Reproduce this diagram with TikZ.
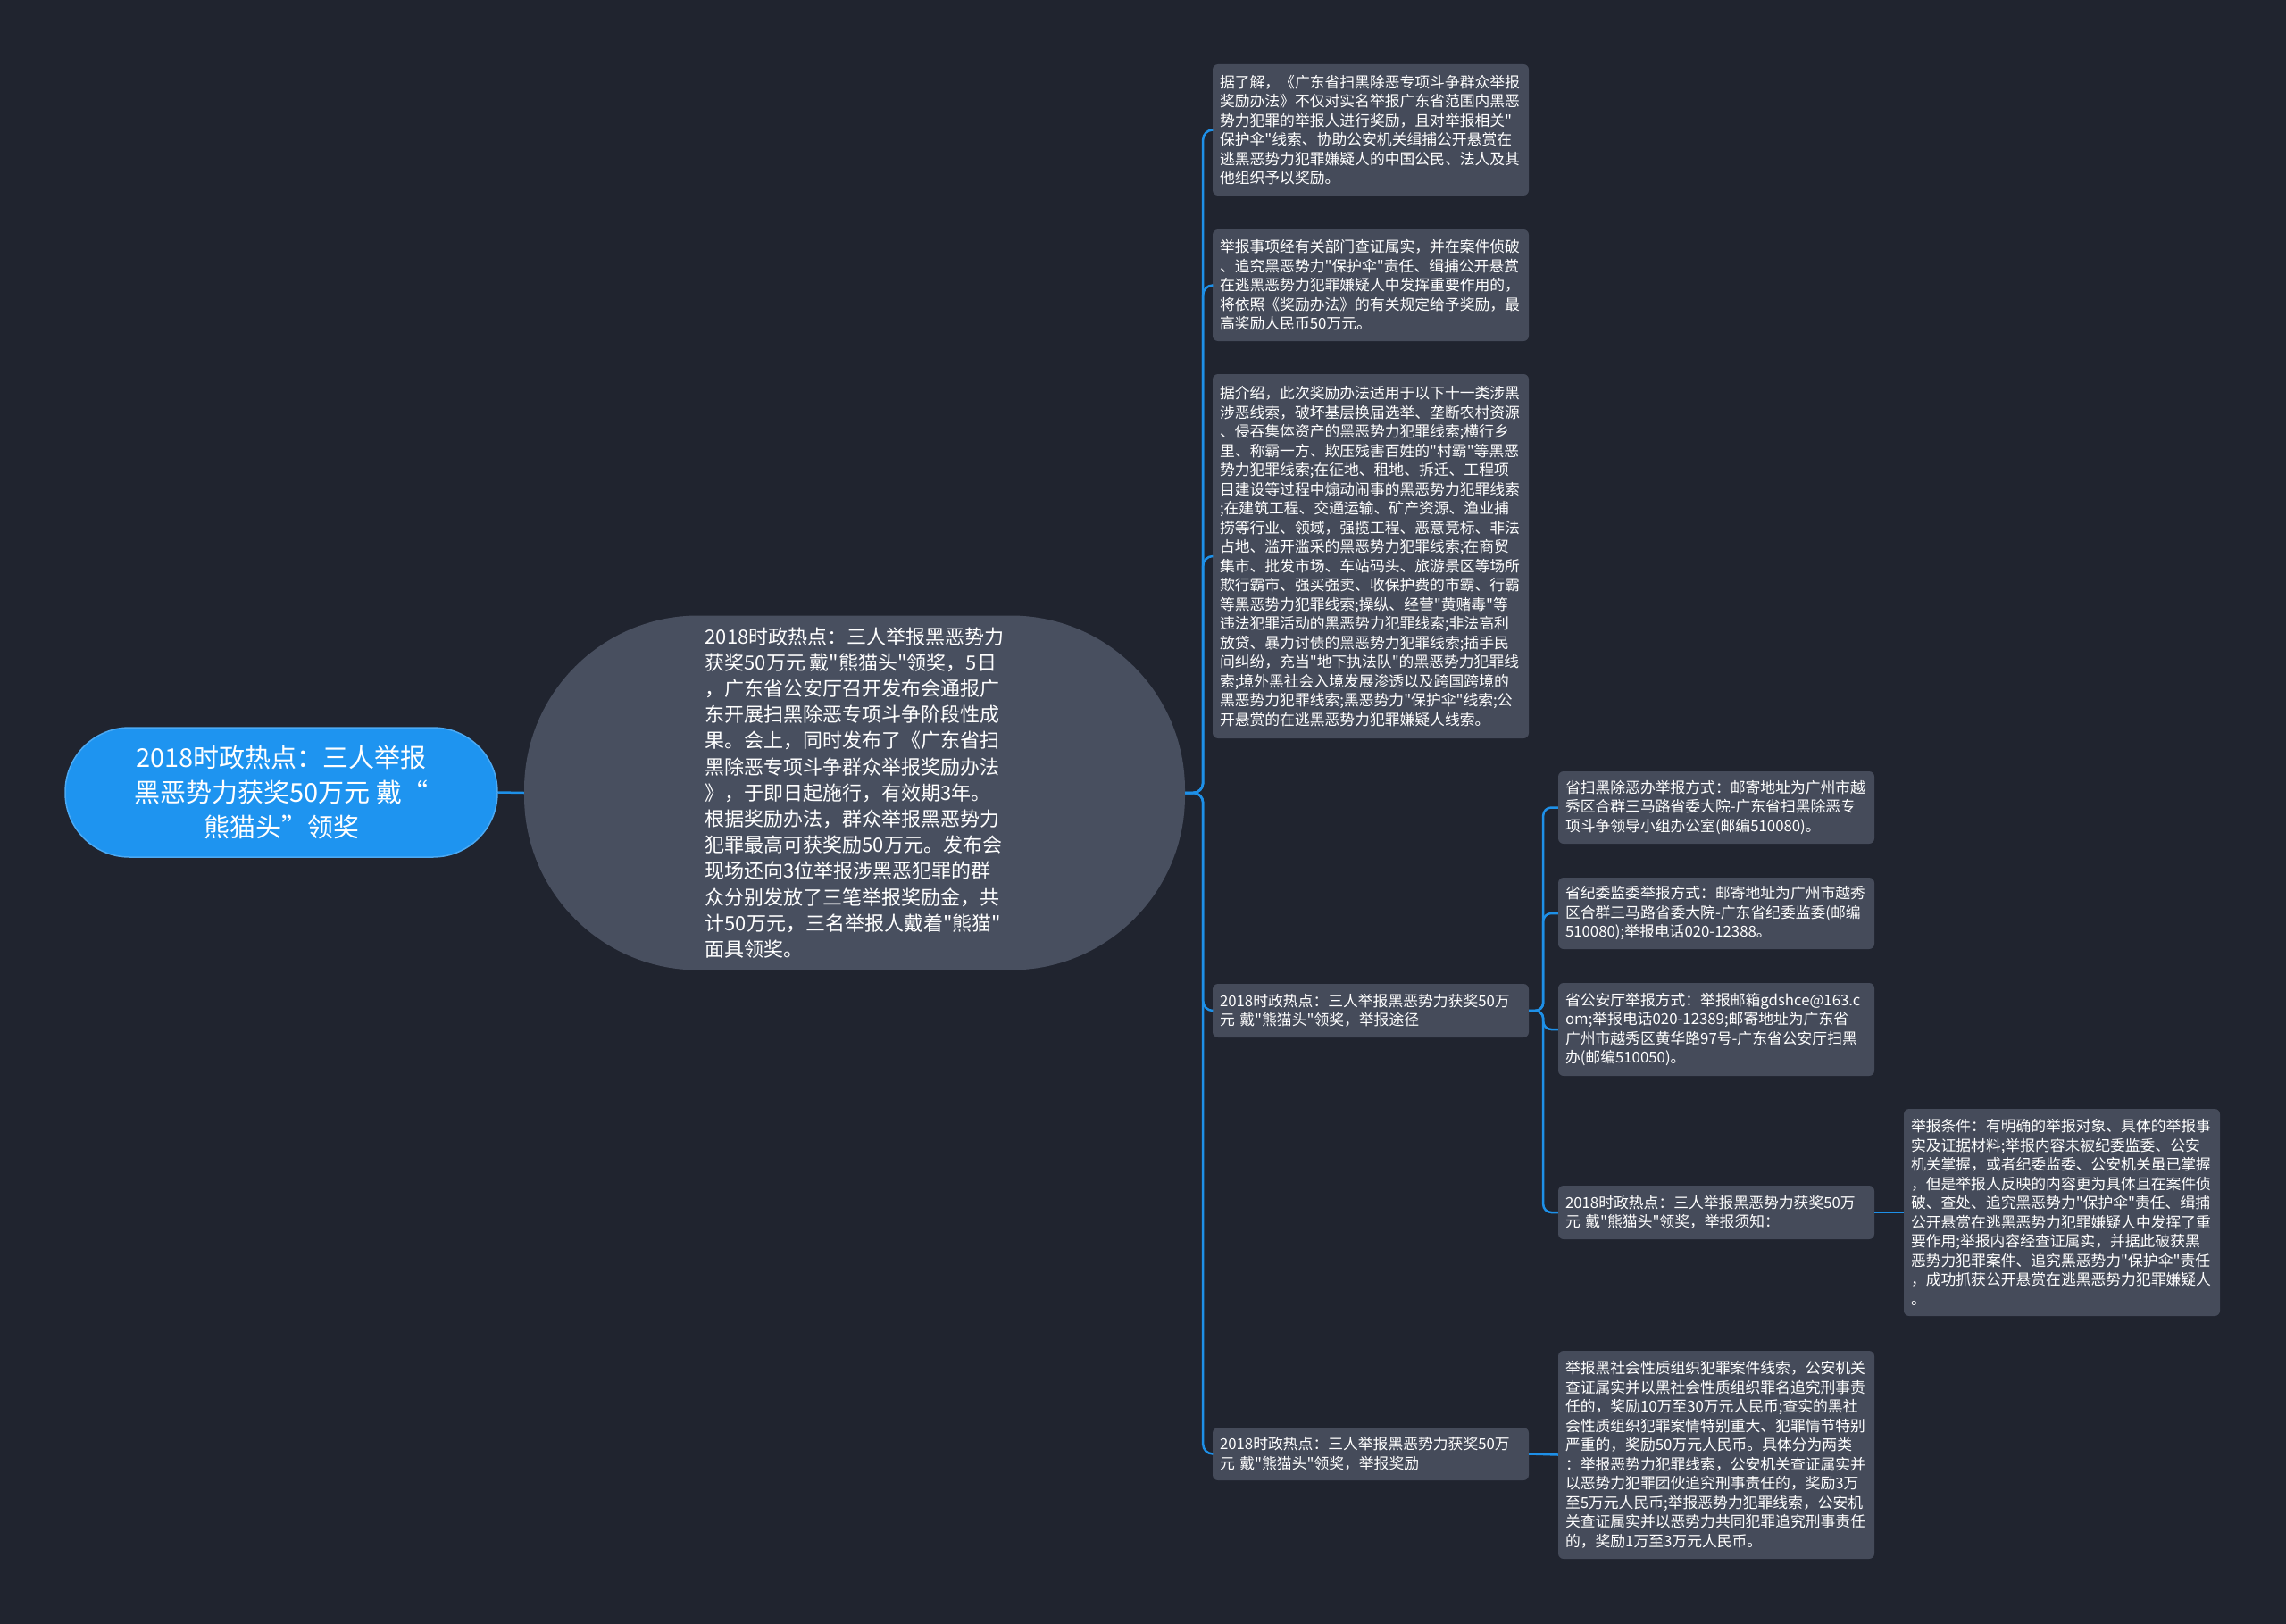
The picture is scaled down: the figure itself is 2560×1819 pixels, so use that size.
\documentclass[tikz,border=0pt]{standalone}
\usepackage{fontspec}
\setmainfont{Noto Sans CJK SC}
\newfontfamily\cjk{Noto Sans CJK SC}
\definecolor{bgdark}{RGB}{32,36,47}
\definecolor{cardgray}{RGB}{69,75,90}
\definecolor{hubgray}{RGB}{72,79,95}
\definecolor{rootblue}{RGB}{30,148,240}
\definecolor{linkblue}{RGB}{30,144,232}
\begin{document}
\begin{tikzpicture}[x=1pt,y=-1pt,
  card/.style={fill=cardgray,rounded corners=6pt,text=white,align=left,inner xsep=8pt,inner ysep=0pt,text width=338pt,font=\cjk\fontsize{16.8}{21.5}\selectfont},
  link/.style={draw=linkblue,line width=2.5pt,rounded corners=11pt}]
\useasboundingbox (0,0) rectangle (2560,1819);
\fill[bgdark] (0,0) rectangle (2560,1819);
% root and hub
\node[fill=rootblue,draw=rootblue!80!white,line width=1.5pt,rounded corners=72pt,minimum width=484pt,minimum height=145pt,text=white,align=center,font=\cjk\fontsize{29}{39}\selectfont] (hot) at (315,887.5) {2018时政热点：三人举报\\黑恶势力获奖50万元 戴“\\熊猫头”领奖};
\node[fill=hubgray,rounded corners=195pt,minimum width=740pt,minimum height=397pt,text=white,align=left,font=\cjk\fontsize{22}{29.2}\selectfont] (brief) at (957,888) {2018时政热点：三人举报黑恶势力\\获奖50万元 戴"熊猫头"领奖，5日\\，广东省公安厅召开发布会通报广\\东开展扫黑除恶专项斗争阶段性成\\果。会上，同时发布了《广东省扫\\黑除恶专项斗争群众举报奖励办法\\》，于即日起施行，有效期3年。\\根据奖励办法，群众举报黑恶势力\\犯罪最高可获奖励50万元。发布会\\现场还向3位举报涉黑恶犯罪的群\\众分别发放了三笔举报奖励金，共\\计50万元，三名举报人戴着"熊猫"\\面具领奖。};
% second level
\node[card,minimum height=147pt] (intro) at (1535,145.5) {据了解，《广东省扫黑除恶专项斗争群众举报\\奖励办法》不仅对实名举报广东省范围内黑恶\\势力犯罪的举报人进行奖励，且对举报相关"\\保护伞"线索、协助公安机关缉捕公开悬赏在\\逃黑恶势力犯罪嫌疑人的中国公民、法人及其\\他组织予以奖励。};
\node[card,minimum height=125pt] (rule) at (1535,319.5) {举报事项经有关部门查证属实，并在案件侦破\\、追究黑恶势力"保护伞"责任、缉捕公开悬赏\\在逃黑恶势力犯罪嫌疑人中发挥重要作用的，\\将依照《奖励办法》的有关规定给予奖励，最\\高奖励人民币50万元。};
\node[card,minimum height=408pt] (clues) at (1535,623) {据介绍，此次奖励办法适用于以下十一类涉黑\\涉恶线索，破坏基层换届选举、垄断农村资源\\、侵吞集体资产的黑恶势力犯罪线索;横行乡\\里、称霸一方、欺压残害百姓的"村霸"等黑恶\\势力犯罪线索;在征地、租地、拆迁、工程项\\目建设等过程中煽动闹事的黑恶势力犯罪线索\\;在建筑工程、交通运输、矿产资源、渔业捕\\捞等行业、领域，强揽工程、恶意竞标、非法\\占地、滥开滥采的黑恶势力犯罪线索;在商贸\\集市、批发市场、车站码头、旅游景区等场所\\欺行霸市、强买强卖、收保护费的市霸、行霸\\等黑恶势力犯罪线索;操纵、经营"黄赌毒"等\\违法犯罪活动的黑恶势力犯罪线索;非法高利\\放贷、暴力讨债的黑恶势力犯罪线索;插手民\\间纠纷，充当"地下执法队"的黑恶势力犯罪线\\索;境外黑社会入境发展渗透以及跨国跨境的\\黑恶势力犯罪线索;黑恶势力"保护伞"线索;公\\开悬赏的在逃黑恶势力犯罪嫌疑人线索。};
\node[card,minimum height=60pt] (route) at (1535,1132) {2018时政热点：三人举报黑恶势力获奖50万\\元 戴"熊猫头"领奖，举报途径};
\node[card,minimum height=59pt] (award) at (1535,1628.5) {2018时政热点：三人举报黑恶势力获奖50万\\元 戴"熊猫头"领奖，举报奖励};
% third level
\node[card,minimum height=81pt] (office) at (1922,904.5) {省扫黑除恶办举报方式：邮寄地址为广州市越\\秀区合群三马路省委大院-广东省扫黑除恶专\\项斗争领导小组办公室(邮编510080)。};
\node[card,minimum height=80pt] (commission) at (1922,1023) {省纪委监委举报方式：邮寄地址为广州市越秀\\区合群三马路省委大院-广东省纪委监委(邮编\\510080);举报电话020-12388。};
\node[card,minimum height=104pt] (police) at (1922,1153) {省公安厅举报方式：举报邮箱gdshce@163.c\\om;举报电话020-12389;邮寄地址为广东省\\广州市越秀区黄华路97号-广东省公安厅扫黑\\办(邮编510050)。};
\node[card,minimum height=60pt] (notice) at (1922,1358) {2018时政热点：三人举报黑恶势力获奖50万\\元 戴"熊猫头"领奖，举报须知：};
\node[card,minimum height=233pt] (amount) at (1922,1629.5) {举报黑社会性质组织犯罪案件线索，公安机关\\查证属实并以黑社会性质组织罪名追究刑事责\\任的，奖励10万至30万元人民币;查实的黑社\\会性质组织犯罪案情特别重大、犯罪情节特别\\严重的，奖励50万元人民币。具体分为两类\\：举报恶势力犯罪线索，公安机关查证属实并\\以恶势力犯罪团伙追究刑事责任的，奖励3万\\至5万元人民币;举报恶势力犯罪线索，公安机\\关查证属实并以恶势力共同犯罪追究刑事责任\\的，奖励1万至3万元人民币。};
\node[card,minimum height=232pt] (terms) at (2309,1358) {举报条件：有明确的举报对象、具体的举报事\\实及证据材料;举报内容未被纪委监委、公安\\机关掌握，或者纪委监委、公安机关虽已掌握\\，但是举报人反映的内容更为具体且在案件侦\\破、查处、追究黑恶势力"保护伞"责任、缉捕\\公开悬赏在逃黑恶势力犯罪嫌疑人中发挥了重\\要作用;举报内容经查证属实，并据此破获黑\\恶势力犯罪案件、追究黑恶势力"保护伞"责任\\，成功抓获公开悬赏在逃黑恶势力犯罪嫌疑人\\。};
% connectors
\draw[link] (hot.east) -- (brief.west);
\foreach \kid in {intro,rule,clues,route,award}
  \draw[link] (brief.east) -- ++(20,0) |- (\kid.west);
\foreach \kid in {office,commission,police,notice}
  \draw[link,rounded corners=9pt] (route.east) -- ++(16,0) |- (\kid.west);
\draw[link] (award.east) -- (amount.west);
\draw[link] (notice.east) -- (terms.west);
\end{tikzpicture}
\end{document}
